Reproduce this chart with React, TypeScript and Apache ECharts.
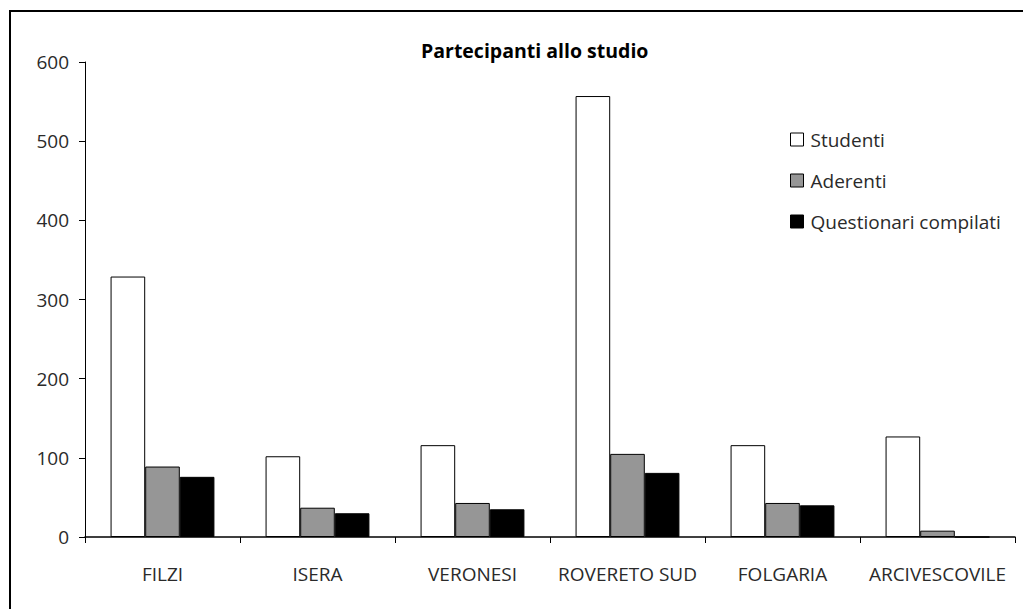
import React, { useEffect, useRef } from "react";
import * as echarts from "echarts";

const categories = ["FILZI", "ISERA", "VERONESI", "ROVERETO SUD", "FOLGARIA", "ARCIVESCOVILE"];
const studenti = [329, 102, 116, 557, 116, 127];
const aderenti = [89, 37, 43, 105, 43, 8];
const questionari = [76, 30, 35, 81, 40, 0];
const seriesNames = ["Studenti", "Aderenti", "Questionari compilati"];
const seriesColors = ["#ffffff", "#969696", "#000000"];
const yTicks = { min: 0, max: 600, interval: 100 };
const titleText = "Partecipanti allo studio";

const FONT = "'Open Sans', sans-serif";
const TEXT = "#2a2a2a";

export default function App() {
  const ref = useRef<HTMLDivElement>(null);
  useEffect(() => {
    if (!ref.current) return;
    const chart = echarts.init(ref.current, undefined, { renderer: "svg" });
    const values = [studenti, aderenti, questionari];
    chart.setOption({
      animation: false,
      backgroundColor: "#ffffff",
      title: {
        text: titleText,
        left: 416,
        top: 35,
        textStyle: { fontFamily: FONT, fontSize: 19.5, fontWeight: "bold", color: "#000" },
      },
      graphic: [
        {
          type: "rect",
          shape: { x: 10, y: 11, width: 1040, height: 640 },
          style: { fill: "none", stroke: "#000", lineWidth: 2 },
          silent: true,
          z: 100,
        },
      ],
      legend: {
        orient: "vertical",
        left: 785,
        top: 125,
        itemWidth: 13,
        itemHeight: 13,
        itemGap: 22,
        icon: "rect",
        textStyle: { fontFamily: FONT, fontSize: 19, color: TEXT, lineHeight: 19, padding: [0, 0, 0, 2] },
        data: seriesNames.map((n) => ({
          name: n,
          itemStyle: { borderColor: "#000", borderWidth: 1 },
        })),
      },
      grid: { left: 85, right: 8, top: 62, bottom: 72, containLabel: false },
      xAxis: {
        type: "category",
        data: categories,
        axisLine: { show: true, lineStyle: { color: "#000", width: 1.5 } },
        axisTick: { show: true, length: 6, alignWithLabel: false, lineStyle: { color: "#000" } },
        axisLabel: { fontFamily: FONT, fontSize: 19, color: TEXT, margin: 27, interval: 0 },
        splitLine: { show: false },
      },
      yAxis: {
        type: "value",
        min: yTicks.min,
        max: yTicks.max,
        interval: yTicks.interval,
        axisLine: { show: true, lineStyle: { color: "#000", width: 1 } },
        axisTick: { show: true, length: 6, inside: false, lineStyle: { color: "#000" } },
        axisLabel: { fontFamily: FONT, fontSize: 19, color: TEXT, margin: 16 },
        splitLine: { show: false },
      },
      series: seriesNames.map((name, i) => ({
        name,
        type: "bar",
        data: values[i],
        barGap: "0%",
        barCategoryGap: "33%",
        itemStyle: { color: seriesColors[i], borderColor: "#000", borderWidth: 1 },
      })),
    });
    return () => chart.dispose();
  }, []);
  return (
    <div
      ref={ref}
      style={{ position: "fixed", left: 0, top: 0, width: 1023, height: 609, background: "#fff" }}
    />
  );
}
